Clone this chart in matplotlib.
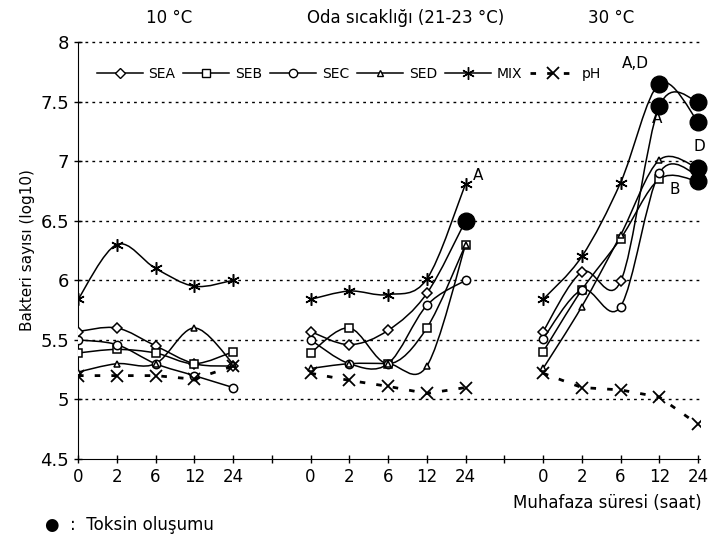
import numpy as np
import matplotlib
matplotlib.use('Agg')
import matplotlib.pyplot as plt
from matplotlib.path import Path
from matplotlib.patches import PathPatch
from matplotlib.lines import Line2D

plt.rcParams['font.family'] = ['Liberation Sans Narrow', 'DejaVu Sans']

hours = ['0', '2', '6', '12', '24']
groups = ['10 °C', 'Oda sıcaklığı (21-23 °C)', '30 °C']

# one list per temperature group, values at 0, 2, 6, 12, 24 h
sea = [[5.57, 5.60, 5.45, 5.30, 5.28], [5.57, 5.46, 5.58, 5.89, 6.50], [5.57, 6.07, 5.99, 7.46, 7.50]]
seb = [[5.39, 5.42, 5.39, 5.30, 5.40], [5.39, 5.60, 5.30, 5.60, 6.30], [5.40, 5.92, 6.35, 6.85, 6.83]]
sec = [[5.50, 5.46, 5.30, 5.20, 5.10], [5.50, 5.30, 5.30, 5.79, 6.00], [5.51, 5.92, 5.78, 6.90, 6.88]]
sed = [[5.23, 5.30, 5.30, 5.60, 5.30], [5.26, 5.30, 5.30, 5.28, 6.30], [5.26, 5.78, 6.38, 7.01, 6.94]]
mix = [[5.84, 6.30, 6.10, 5.95, 6.00], [5.84, 5.91, 5.88, 6.01, 6.81], [5.84, 6.20, 6.82, 7.65, 7.33]]
ph = [[5.20, 5.20, 5.20, 5.17, 5.28], [5.22, 5.16, 5.11, 5.05, 5.10], [5.22, 5.10, 5.08, 5.02, 4.79]]

# (series, group, time index) where toxin was formed
toxin = [('SEA', 1, 4), ('SEA', 2, 3), ('SEA', 2, 4), ('MIX', 2, 3), ('MIX', 2, 4),
         ('SED', 2, 4), ('SEB', 2, 4)]

series = {'SEA': (sea, 'D', 5), 'SEB': (seb, 's', 6), 'SEC': (sec, 'o', 6),
          'SED': (sed, '^', 5), 'MIX': (mix, (6, 2, 0), 9)}


def smooth_path(xs, ys):
    pts = np.column_stack([xs, ys])
    p = np.vstack([pts[0], pts, pts[-1]])
    verts = [pts[0]]
    codes = [Path.MOVETO]
    for i in range(1, len(p) - 2):
        c1 = p[i] + (p[i + 1] - p[i - 1]) / 6
        c2 = p[i + 1] - (p[i + 2] - p[i]) / 6
        verts += [c1, c2, p[i + 1]]
        codes += [Path.CURVE4] * 3
    return Path(verts, codes)


def xpos(g):
    return np.arange(5) + 6 * g


fig = plt.figure(figsize=(7.12, 5.44), dpi=100)
ax = fig.add_axes([0.1096, 0.1562, 0.8736, 0.7666])

for name, (vals, mk, ms) in series.items():
    for g in range(3):
        x = xpos(g)
        ax.add_patch(PathPatch(smooth_path(x, vals[g]), fill=False, lw=1.1, ec='black', zorder=2))
        ax.plot(x, vals[g], ls='none', marker=mk, ms=ms, mfc='white', mec='black', mew=1.1, zorder=3)

for g in range(3):
    ax.plot(xpos(g), ph[g], color='black', ls=(0, (2, 4)), lw=2, marker='x', ms=9, mew=1.3, zorder=3)

for name, g, i in toxin:
    ax.plot(xpos(g)[i], series[name][0][g][i], 'o', color='black', ms=12, zorder=4, clip_on=False)

for yv in np.arange(5, 8.01, 0.5):
    ax.axhline(yv, color='black', lw=1, ls=(0, (2, 3)), zorder=1, clip_on=False)

ax.set_xlim(0, 16.05)
ax.set_ylim(4.5, 8)
ticks = list(range(17))
ax.set_xticks(ticks)
ax.set_xticklabels([hours[t % 6] if t % 6 < 5 else '' for t in ticks])
ax.set_yticks(np.arange(4.5, 8.01, 0.5))
ax.set_yticklabels(['4.5', '5', '5.5', '6', '6.5', '7', '7.5', '8'])
ax.tick_params(direction='inout', length=6, labelsize=12, width=1)
ax.tick_params(axis='y', labelsize=13)
ax.spines['top'].set_visible(False)
ax.spines['right'].set_visible(False)
ax.set_ylabel('Bakteri sayısı (log10)', fontsize=11, labelpad=4)

for txt, xt in zip(groups, [2.36, 8.45, 13.75]):
    ax.text(xt, 8.2, txt, ha='center', va='center', fontsize=12)

ax.text(10.32, 6.88, 'A', fontsize=11, ha='center', va='center')
ax.text(14.39, 7.82, 'A,D', fontsize=11, ha='center', va='center')
ax.text(14.93, 7.36, 'A', fontsize=11, ha='center', va='center')
ax.text(16.03, 7.12, 'D', fontsize=11, ha='center', va='center')
ax.text(15.41, 6.76, 'B', fontsize=11, ha='center', va='center')

handles = [Line2D([], [], color='black', lw=1.1, marker=mk, ms=ms, mfc='white', mec='black')
           for name, (vals, mk, ms) in series.items()]
handles.append(Line2D([], [], color='black', lw=2, ls=(0, (2, 4)), marker='x', ms=9, mew=1.3))
ax.legend(handles, list(series.keys()) + ['pH'], ncol=6, loc='upper left', bbox_to_anchor=(0.01, 0.97),
          frameon=False, fontsize=10, handlelength=3.3, columnspacing=0.6, handletextpad=0.4)

fig.text(0.985, 0.075, 'Muhafaza süresi (saat)', ha='right', va='center', fontsize=12)
fig.text(0.063, 0.035, '●  :  Toksin oluşumu', ha='left', va='center', fontsize=12)

fig.savefig('out.png', dpi=100)
